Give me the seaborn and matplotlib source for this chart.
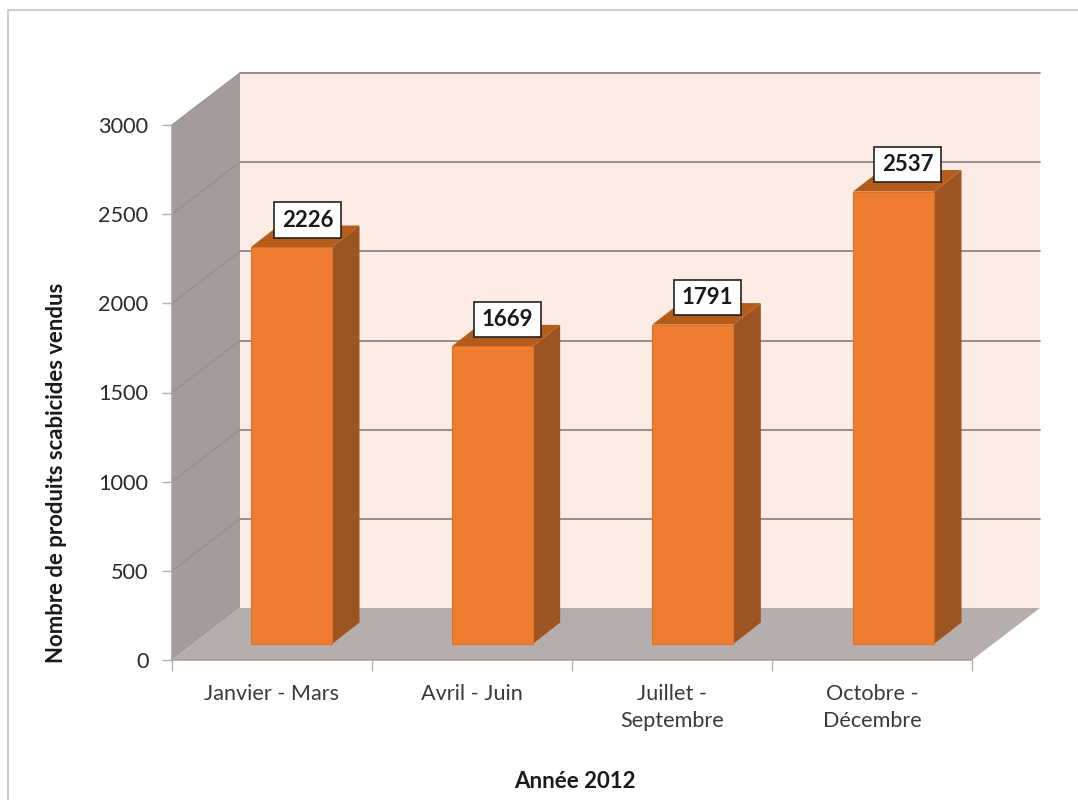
import numpy as np
import matplotlib
matplotlib.use("Agg")
import matplotlib.pyplot as plt
from matplotlib.patches import Polygon
from matplotlib.lines import Line2D
from matplotlib.transforms import Affine2D
import seaborn as sns

periods = ["Janvier - Mars", "Avril - Juin", "Juillet -\nSeptembre", "Octobre -\nDécembre"]
sales = [2226, 1669, 1791, 2537]
y_ticks = [0, 500, 1000, 1500, 2000, 2500, 3000]
x_label = "Année 2012"
y_label = "Nombre de produits scabicides vendus"

sns.set_theme(style="white")
plt.rcParams["font.family"] = ["Lato", "DejaVu Sans"]

W, H = 1078, 800
fig = plt.figure(figsize=(W / 100, H / 100), dpi=100, facecolor="white")
ax = fig.add_axes([172 / W, (H - 660) / H, 800 / W, 535 / H])
ax.patch.set_visible(False)

BAR_W = 0.405
sns.barplot(x=periods, y=sales, color="#ee7d2f", width=BAR_W, saturation=1, ax=ax)
ax.set_xlim(-0.5, 3.5)
ax.set_ylim(0, 3000)
ax.set_xlabel("")
ax.set_ylabel("")

for s in ["top", "right"]:
    ax.spines[s].set_visible(False)
for s in ["left", "bottom"]:
    ax.spines[s].set_color("#a8a4a2")
    ax.spines[s].set_linewidth(1.2)
    ax.spines[s].set_zorder(1.8)

ax.set_yticks(y_ticks)
ax.set_xticks(np.arange(-0.5, 4.0, 1.0), minor=True)
ax.tick_params(axis="x", which="major", length=0, pad=17, labelsize=15.6, labelcolor="#3a3a3a")
ax.tick_params(axis="x", which="minor", length=8, width=1, color="#b5b1af", bottom=True)
ax.tick_params(axis="y", length=7, width=1, color="#b5b1af", left=True, pad=10,
               labelsize=15.6, labelcolor="#2a2a2a")
for lab in ax.get_xticklabels():
    lab.set_linespacing(1.45)

DX, DY = 68, 52  # depth of the chart box, in pixels


def P(x, y, depth=0.0, ox=0.0, oy=0.0):
    px, py = ax.transData.transform((x, y))
    return (px + depth * DX + ox, py + depth * DY + oy)


def face(points, color, z, ec="none", lw=0):
    ax.add_patch(Polygon(points, closed=True, facecolor=color, edgecolor=ec, linewidth=lw,
                         transform=None, clip_on=False, zorder=z))


def seg(a, b, color, lw, z):
    ax.add_line(Line2D([a[0], b[0]], [a[1], b[1]], color=color, linewidth=lw,
                       transform=None, clip_on=False, zorder=z))


# back wall, side wall, floor
face([P(-.5, 0, 1), P(3.5, 0, 1), P(3.5, 3000, 1), P(-.5, 3000, 1)], "#fdece6", 1)
face([P(-.5, 0), P(-.5, 0, 1), P(-.5, 3000, 1), P(-.5, 3000)], "#a59c99", 1.1)
face([P(-.5, 0), P(3.5, 0), P(3.5, 0, 1), P(-.5, 0, 1)], "#b6aeac", 1.2)
for t in y_ticks[1:]:
    seg(P(-.5, t, 1), P(3.5, t, 1), "#8e8784", 1.3, 1.5)
    seg(P(-.5, t), P(-.5, t, 1), "#969090", 0.9, 1.5)

# bars
SHIFT_X, SHIFT_Y = 19.5, 16
BD = (27.5, 21.5)
for i, (bar, v) in enumerate(zip(ax.patches[:len(sales)], sales)):
    x0 = bar.get_x()
    x1 = x0 + bar.get_width()
    sx = SHIFT_X + 0.67 * i
    bar.set_transform(ax.transData + Affine2D().translate(sx, SHIFT_Y))
    bar.set_zorder(3)
    bar.set_edgecolor("#d9722d")
    bar.set_linewidth(0.8)
    bar.set_clip_on(False)
    s = dict(ox=sx, oy=SHIFT_Y)
    b = dict(ox=sx + BD[0], oy=SHIFT_Y + BD[1])
    face([P(x1, 0, **s), P(x1, 0, **b), P(x1, v, **b), P(x1, v, **s)], "#9e5420", 2.5)
    face([P(x0, v, **s), P(x1, v, **s), P(x1, v, **b), P(x0, v, **b)], "#b55c1b", 2.6)

# value labels
for i, v in enumerate(sales):
    ax.annotate(str(v), xy=(i, v), xytext=(35.5 * 0.72, 43 * 0.72), textcoords="offset points",
                ha="center", va="center", fontsize=16, fontweight="bold", color="#1a1a1a", zorder=6,
                annotation_clip=False,
                bbox=dict(boxstyle="square,pad=0.33", fc="white", ec="#222222", lw=1.2))

fig.text(57 / W, 1 - 473 / H, y_label, rotation=90, ha="center", va="center",
         fontsize=15.9, fontweight="bold", color="#1a1a1a")
fig.text(575 / W, 1 - 781 / H, x_label, ha="center", va="center",
         fontsize=16, fontweight="bold", color="#1a1a1a")

# outer chart frame
fig.add_artist(Line2D([8 / W, 8 / W, 1], [0, 1 - 10 / H, 1 - 10 / H], color="#c4c4c4", linewidth=1.2))

fig.savefig("out.png", dpi=100, facecolor="white")
